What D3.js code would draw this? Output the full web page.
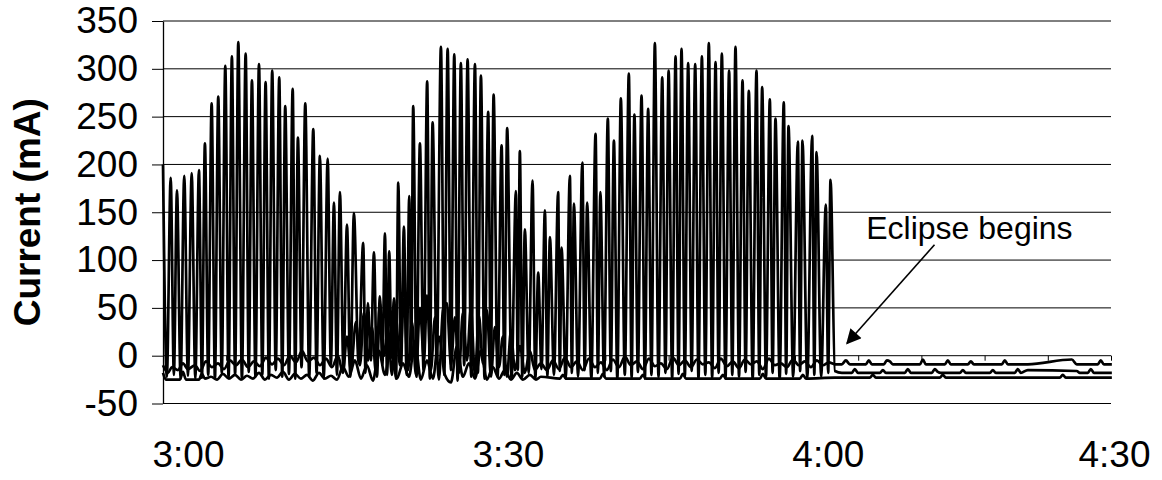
<!DOCTYPE html>
<html>
<head>
<meta charset="utf-8">
<script src="https://cdn.jsdelivr.net/npm/d3@7"></script>
<style>
  body { margin: 0; background: #fff; }
  svg { display: block; font-family: "Liberation Sans", Arial, sans-serif; }
</style>
</head>
<body>
<script>
// minutes after 3:00
const xTickValues = [0, 30, 60, 90];
const xTickLabels = ["3:00", "3:30", "4:00", "4:30"];
const yTicks = [-50, 0, 50, 100, 150, 200, 250, 300, 350];

// main panel current: peaks and troughs
const mainPeakTime = [
  -2.34, -1.62, -1.03, -0.35, 0.35, 1.03, 1.59, 2.22, 2.84, 3.50,
  4.12, 4.72, 5.41, 6.00, 6.66, 7.28, 7.90, 8.56, 9.12, 9.82,
  10.31, 11.00, 11.75, 12.37, 13.10, 13.69, 14.25, 14.91, 15.56, 16.43,
  16.87, 17.44, 18.00, 18.47, 18.87, 19.31, 19.72, 20.25, 20.75, 21.12,
  21.75, 22.43, 22.94, 23.72, 24.35, 24.97, 25.59, 26.22, 26.91, 27.47,
  28.15, 28.66, 29.41, 29.93, 30.75, 31.12, 31.59, 32.31, 32.84, 33.47,
  33.94, 34.71, 35.03, 35.81, 36.19, 36.98, 37.43, 38.22, 38.67, 39.37,
  39.94, 40.59, 41.34, 41.86, 42.53, 43.15, 43.78, 44.47, 45.07, 45.72,
  46.28, 46.90, 47.56, 48.19, 48.84, 49.47, 50.06, 50.74, 51.34, 52.00,
  52.59, 53.31, 53.84, 54.56, 55.09, 55.87, 56.31, 57.19, 57.62, 58.53,
  58.94, 59.81, 60.25
];
const mainPeakValue = [
  200, 186, 173, 188, 191, 194, 222, 264, 271, 303,
  313, 328, 316, 288, 305, 286, 298, 291, 261, 279,
  228, 264, 237, 209, 206, 160, 171, 137, 149, 118,
  55, 108, 62, 128, 109, 60, 181, 135, 167, 261,
  222, 287, 244, 323, 321, 315, 306, 310, 305, 293,
  255, 273, 220, 238, 172, 214, 132, 183, 87, 152,
  124, 171, 113, 188, 159, 202, 160, 232, 171, 248,
  225, 269, 295, 252, 272, 258, 327, 291, 298, 313,
  321, 306, 305, 313, 327, 307, 316, 298, 323, 288,
  277, 298, 281, 268, 248, 265, 240, 224, 225, 230,
  213, 158, 184
];
const mainTroughTime = [
  -1.98, -1.32, -0.69, 0.00, 0.69, 1.31, 1.90, 2.53, 3.17, 3.81,
  4.42, 5.06, 5.70, 6.33, 6.97, 7.59, 8.23, 8.84, 9.47, 10.06,
  10.65, 11.37, 12.06, 12.73, 13.40, 13.97, 14.58, 15.23, 16.00, 16.65,
  17.15, 17.72, 18.23, 18.67, 19.09, 19.51, 19.98, 20.50, 20.93, 21.43,
  22.09, 22.68, 23.33, 24.03, 24.66, 25.28, 25.90, 26.56, 27.19, 27.81,
  28.40, 29.03, 29.67, 30.34, 30.93, 31.35, 31.95, 32.57, 33.15, 33.70,
  34.32, 34.87, 35.42, 36.00, 36.58, 37.20, 37.82, 38.44, 39.02, 39.65,
  40.26, 40.96, 41.60, 42.19, 42.84, 43.46, 44.12, 44.77, 45.40, 46.00,
  46.59, 47.23, 47.87, 48.51, 49.15, 49.76, 50.40, 51.04, 51.67, 52.29,
  52.95, 53.57, 54.20, 54.82, 55.48, 56.09, 56.75, 57.40, 58.07, 58.73,
  59.37, 60.03
];
const mainTroughValue = [
  -22, -20, -24, -21, -24, -23, -20, -24, -18, -23,
  -20, -24, -17, -22, -20, -24, -15, -22, -19, -24,
  -12, -22, -18, -24, -10, -20, -15, -22, -8, -18,
  -5, -22, -10, -20, -2, -24, -12, -20, -5, -22,
  -15, -24, -8, -20, -15, -26, -10, -22, -18, -24,
  -12, -22, -20, -24, -15, -22, -18, -24, -14, -22,
  -20, -16, -24, -18, -22, -15, -24, -18, -22, -16,
  -24, -20, -23, -17, -24, -20, -22, -18, -24, -19,
  -22, -16, -24, -20, -23, -18, -24, -20, -22, -17,
  -24, -20, -22, -18, -24, -19, -22, -16, -24, -20,
  -22, -18
];
// after the eclipse starts
const mainTailTime = [
  60.66, 61.31, 62.25, 62.53, 62.81, 64.88, 65.16, 65.44, 67.22, 67.50,
  67.78, 69.75, 70.03, 70.31, 70.59, 72.38, 72.66, 72.94, 75.19, 75.47,
  75.75, 77.53, 77.81, 78.09, 78.75, 83.34, 83.63, 84.38, 84.66, 84.94, 86.63
];
const mainTailValue = [
  -16, -18, -18, -14, -18, -18, -15, -18, -18, -14,
  -18, -18, -14, -17, -18, -18, -15, -18, -18, -15,
  -18, -18, -14, -18, -15, -16, -18, -18, -14, -18, -18
];

// second panel current
const panelBTime = [
  -2.34, -1.88, -1.50, -0.94, -0.47, 0.00, 0.66, 1.13, 1.69, 2.25,
  2.81, 3.38, 3.94, 4.50, 5.06, 5.63, 6.19, 6.75, 7.31, 7.88,
  8.44, 9.00, 9.56, 10.13, 10.69, 11.25, 11.81, 12.38, 12.94, 13.50,
  14.06, 14.53, 14.91, 15.28, 15.75, 16.13, 16.50, 16.88, 17.25, 17.63,
  18.00, 18.38, 18.75, 19.13, 19.50, 19.88, 20.25, 20.63, 21.00, 21.38,
  21.75, 22.13, 22.41, 22.78, 23.16, 23.53, 23.91, 24.28, 24.66, 25.03,
  25.41, 25.78, 26.16, 26.53, 26.91, 27.28, 27.66, 28.03, 28.41, 28.78,
  29.16, 29.53, 29.91, 30.28, 30.66, 31.13, 31.59, 32.06, 32.53, 33.09,
  33.66, 34.22, 34.78, 35.34, 35.91, 36.47, 37.03, 37.59, 38.16, 38.72,
  39.28, 39.84, 40.41, 40.97, 41.53, 42.09, 42.66, 43.22, 43.78, 44.34,
  44.91, 45.47, 46.03, 46.59, 47.16, 47.72, 48.28, 48.84, 49.41, 49.97,
  50.53, 51.09, 51.66, 52.22, 52.78, 53.34, 53.91, 54.47, 55.03, 55.59,
  56.16, 56.72, 57.28, 57.84, 58.41, 58.97, 59.53, 60.09, 60.66, 61.31,
  61.69, 62.06, 63.56, 63.84, 64.13, 65.25, 65.53, 65.81, 66.09, 68.63,
  68.91, 69.19, 70.97, 71.25, 71.53, 73.13, 73.41, 73.69, 76.31, 76.59,
  76.88, 78.75, 82.88, 83.34, 85.31, 85.59, 85.88, 86.63
];
const panelBValue = [
  -10, -18, -12, -15, -8, -14, -10, -16, -6, -12,
  -8, -14, -5, -10, -4, -12, -6, -11, -2, -9,
  -3, -10, 0, -7, 5, -6, -2, -10, -3, -12,
  0, -18, 20, -15, 35, -10, 45, -5, 30, -18,
  55, 0, 28, -20, 40, -10, 60, -15, 35, -20,
  50, -5, 63, -15, 40, -25, 48, 55, -10, 40,
  -18, 45, -5, 50, -20, 42, -8, 48, -22, 30,
  -12, 20, -22, 25, -15, 10, -18, 5, -15, -8,
  -15, -5, -14, -2, -12, -6, -15, -3, -12, -7,
  -15, -4, -12, -1, -10, -6, -14, -3, -11, -8,
  -14, -2, -10, -5, -12, -4, -9, -7, -13, -3,
  -11, -6, -13, -4, -9, -6, -14, -3, -10, -8,
  -12, -4, -10, -6, -12, -5, -10, -7, -9, -9,
  -5, -9, -9, -5, -9, -9, -5, -6, -9, -9,
  -4, -9, -9, -5, -9, -9, -6, -9, -9, -5,
  -9, -9, -4, -9, -9, -5, -9, -9
];

// third panel current
const panelCTime = [
  -2.34, -2.06, -0.75, -0.47, -0.19, 1.03, 1.31, 1.59, 2.16, 2.72,
  3.28, 3.84, 4.41, 4.97, 5.53, 6.09, 6.66, 7.22, 7.78, 8.34,
  8.91, 9.47, 10.03, 10.59, 11.16, 11.72, 12.28, 12.84, 13.41, 13.97,
  14.53, 15.09, 15.66, 16.22, 16.78, 17.34, 17.91, 18.47, 19.03, 19.59,
  20.16, 20.72, 21.28, 21.84, 22.41, 22.97, 23.53, 24.09, 24.66, 25.22,
  25.78, 26.34, 26.91, 27.47, 28.03, 28.59, 29.16, 29.72, 30.28, 30.84,
  31.41, 32.06, 32.63, 33.09, 34.88, 35.16, 35.44, 38.63, 38.91, 39.19,
  42.38, 42.66, 42.94, 46.13, 46.41, 46.69, 49.88, 50.16, 50.44, 53.63,
  53.91, 54.19, 57.38, 57.66, 57.94, 60.66, 63.94, 64.22, 64.50, 70.50,
  70.78, 71.06, 81.75, 82.03, 82.31, 86.63
];
const panelCValue = [
  -18, -25, -25, -17, -25, -25, -19, -24, -22, -25,
  -19, -24, -20, -25, -21, -24, -18, -25, -20, -23,
  -17, -25, -19, -24, -20, -26, -18, -24, -21, -25,
  -12, -22, -5, -24, -10, -26, 5, -20, 10, -24,
  -8, -22, 15, -25, -5, -24, 20, -20, -28, 10,
  -22, -8, -24, 5, -25, -12, -24, -15, -25, -18,
  -25, -20, -25, -22, -24, -20, -24, -24, -19, -24,
  -24, -20, -24, -24, -19, -24, -24, -20, -24, -24,
  -19, -24, -24, -20, -24, -23, -23, -20, -23, -23,
  -20, -23, -23, -20, -23, -23
];

const width = 1162;
const height = 480;
const plotLeft = 163, plotRight = 1111, plotTop = 21, plotBottom = 403.5;

const svg = d3.select("body").append("svg")
  .attr("width", width).attr("height", height)
  .style("background-color", "#fff");

const xScale = d3.scaleLinear().domain([-2.34, 86.55]).range([plotLeft, plotRight]);
const yScale = d3.scaleLinear().domain([-50, 350]).range([plotBottom, plotTop]);

// gridlines
svg.append("g").selectAll("line").data(yTicks).enter().append("line")
  .attr("x1", plotLeft).attr("x2", plotRight)
  .attr("y1", d => yScale(d)).attr("y2", d => yScale(d))
  .attr("stroke", "#000").attr("stroke-width", 1);

// small ticks on the zero line
const minorTicks = d3.range(16).map(k => xScale.domain()[0] + k * (xScale.domain()[1] - xScale.domain()[0]) / 15);
const zeroAxis = svg.append("g")
  .attr("transform", "translate(0," + yScale(0) + ")")
  .call(d3.axisBottom(xScale).tickValues(minorTicks).tickSize(5).tickFormat(""));
zeroAxis.select(".domain").remove();
zeroAxis.selectAll("line").attr("stroke", "#000");

// series
const interleave = [];
mainPeakTime.forEach((t, i) => {
  interleave.push([t, mainPeakValue[i]]);
  if (i < mainTroughTime.length) interleave.push([mainTroughTime[i], mainTroughValue[i]]);
});
mainTailTime.forEach((t, i) => interleave.push([t, mainTailValue[i]]));

const series = [
  panelCTime.map((t, i) => [t, panelCValue[i]]),
  panelBTime.map((t, i) => [t, panelBValue[i]]),
  interleave
];

const line = d3.line()
  .curve(d3.curveMonotoneX)
  .x(d => xScale(d[0])).y(d => yScale(d[1]));

svg.append("g").selectAll("path").data(series).enter().append("path")
  .attr("d", line)
  .attr("fill", "none")
  .attr("stroke", "#000")
  .attr("stroke-width", 2.7)
  .attr("stroke-linejoin", "round");

// y axis
const yAxis = svg.append("g")
  .attr("transform", "translate(" + plotLeft + ",0)")
  .call(d3.axisLeft(yScale).tickValues(yTicks).tickFormat(d => String(d))
    .tickSize(11).tickSizeOuter(0).tickPadding(14));
yAxis.select(".domain").attr("stroke", "#000").attr("stroke-width", 1.3);
yAxis.selectAll("line").attr("stroke", "#000");
yAxis.selectAll("text").style("font-size", "37px").attr("fill", "#000");

// x axis labels
const xAxis = svg.append("g")
  .attr("transform", "translate(0," + plotBottom + ")")
  .call(d3.axisBottom(xScale).tickValues(xTickValues)
    .tickFormat((d, i) => xTickLabels[i]).tickSize(0).tickPadding(37));
xAxis.select(".domain").remove();
xAxis.selectAll("text").style("font-size", "37px").attr("fill", "#000");
// last label pulled inside the picture
xAxis.selectAll(".tick").filter((d, i) => i === xTickValues.length - 1).select("text")
  .attr("text-anchor", "end")
  .attr("x", (width - 12) - xScale(xTickValues[xTickValues.length - 1]));

// axis title
svg.append("text")
  .attr("transform", "translate(40," + ((plotTop + plotBottom) / 2) + ") rotate(-90)")
  .attr("text-anchor", "middle")
  .style("font-size", "37px").style("font-weight", "bold")
  .text("Current (mA)");

// annotation
svg.append("text")
  .attr("x", xScale(63.6)).attr("y", yScale(122))
  .style("font-size", "32px")
  .text("Eclipse begins");

svg.append("defs").append("marker")
  .attr("id", "head").attr("viewBox", "0 0 10 10")
  .attr("refX", 9).attr("refY", 5)
  .attr("markerWidth", 18).attr("markerHeight", 15)
  .attr("markerUnits", "userSpaceOnUse")
  .attr("orient", "auto")
  .append("path").attr("d", "M0,0 L10,5 L0,10 z").attr("fill", "#000");

svg.append("line")
  .attr("x1", xScale(70.0)).attr("y1", yScale(116))
  .attr("x2", xScale(61.8)).attr("y2", yScale(13))
  .attr("stroke", "#000").attr("stroke-width", 1.6)
  .attr("marker-end", "url(#head)");
</script>
</body>
</html>
